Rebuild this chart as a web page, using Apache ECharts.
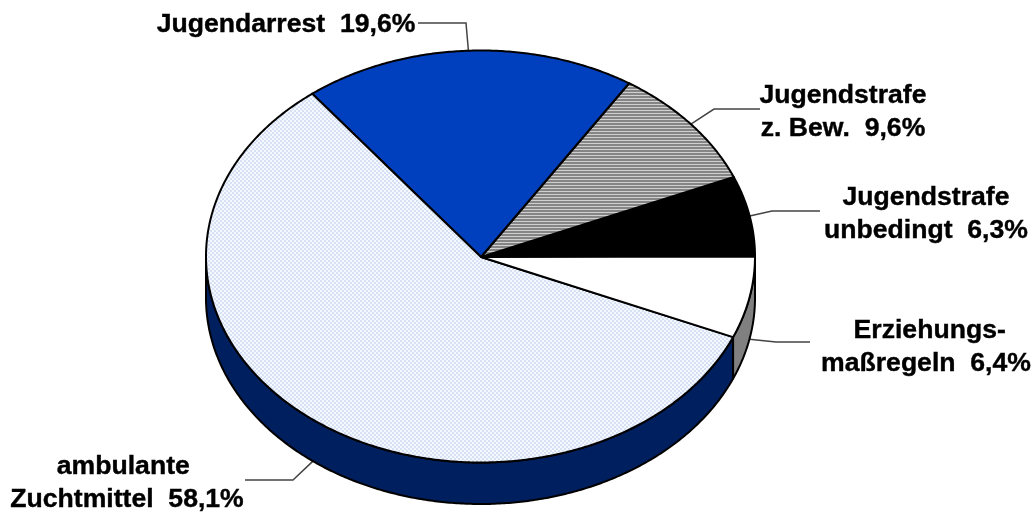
<!DOCTYPE html>
<html><head><meta charset="utf-8">
<style>html,body{margin:0;padding:0;background:#fff}#c{width:1034px;height:516px}</style>
<script src="https://cdn.jsdelivr.net/npm/echarts@6/dist/echarts.min.js"></script>
</head><body><div id="c"></div>
<script>
// Slices, counter-clockwise from 3 o'clock
const categories = ['Jugendstrafe unbedingt','Jugendstrafe z. Bew.','Jugendarrest','ambulante Zuchtmittel','Erziehungsmaßregeln'];
const values = [6.3, 9.6, 19.6, 58.1, 6.4];
const labelLines = [
  ['Jugendstrafe','unbedingt  6,3%'],
  ['Jugendstrafe','z. Bew.  9,6%'],
  ['Jugendarrest  19,6%'],
  ['ambulante ','Zuchtmittel  58,1%'],
  [' Erziehungs-','maßregeln  6,4%']
];
const labelCentres = [[926,214],[843,112.5],[286,25],[127,483.5],[926,347]];
const leaders = [
  [[820,211],[772,211]],
  [[760,109],[714,109]],
  [[418,23],[466,23]],
  [[245,480],[293,480]],
  [[810,342],[776,342]]
];
const sideColors = ['#000','#808080','#0033bb','#001f5f','#808080'];

const cx=480.5, cy=256.5, rx=274.5, ry=206, depth=41.5, apex=[481,257];

function patternCanvas(w,h,draw){
  const c=document.createElement('canvas');c.width=w;c.height=h;
  draw(c.getContext('2d'));return c;
}
const hatch=patternCanvas(1,3,g=>{g.fillStyle='#858585';g.fillRect(0,0,1,3);g.fillStyle='#d0d0d0';g.fillRect(0,2,1,1);});
const dots=patternCanvas(4,4,g=>{g.fillStyle='#f5f8fe';g.fillRect(0,0,4,4);g.fillStyle='#d6e1f6';g.fillRect(0,0,2,2);g.fillRect(2,2,2,2);});
const fills=['#000',{image:hatch,repeat:'repeat'},'#0040bf',{image:dots,repeat:'repeat'},'#fff'];

const P=(deg,dy=0)=>{const a=deg*Math.PI/180;return [cx+rx*Math.cos(a),cy-ry*Math.sin(a)+dy];};
function arc(a0,a1){const n=Math.max(2,Math.ceil(Math.abs(a1-a0)*2));const o=[];for(let i=0;i<=n;i++)o.push(a0+(a1-a0)*i/n);return o;}

let cum=[0];values.forEach(v=>cum.push(cum[cum.length-1]+v));
const total=cum[cum.length-1];

function renderItem(params,api){
  const i=params.dataIndex;
  const a0=cum[i]/total*360, a1=(cum[i]+api.value(1))/total*360;
  const children=[];
  const s0=Math.max(a0,180), s1=Math.min(a1,360);
  if(s1>s0){
    const top=arc(s0,s1).map(a=>P(a));
    const bot=arc(s1,s0).map(a=>P(a,depth));
    children.push({type:'polygon',z2:1,shape:{points:top.concat(bot)},
      style:{fill:sideColors[i],stroke:'#000',lineWidth:2,lineJoin:'round'}});
  }
  const pts=[apex].concat(arc(a0,a1).map(a=>P(a)));
  children.push({type:'polygon',z2:2,shape:{points:pts},
    style:{fill:fills[i],stroke:'#000',lineWidth:2,lineJoin:'round'}});
  // leader runs to the middle of the slice's outer edge
  const L=leaders[i];
  const mid=(a0+a1)/2;
  const tip=P(mid,Math.sin(mid*Math.PI/180)<0?depth:0);
  children.push({type:'polyline',z2:0,shape:{points:[L[0],L[1],tip]},
    style:{fill:null,stroke:'#444',lineWidth:1.5}});
  const [lx,ly]=labelCentres[i];
  children.push({type:'text',z2:4,x:lx,y:ly,style:{
    text:labelLines[i].join('\n'),align:'center',verticalAlign:'middle',
    font:'bold 26.6px "Liberation Sans", Arial, sans-serif',lineHeight:33,fill:'#000',stroke:'#000',lineWidth:0.4}});
  return {type:'group',children};
}
const chart=echarts.init(document.getElementById('c'),null,{renderer:'canvas'});
chart.setOption({animation:false,backgroundColor:'#fff',
  series:[{type:'custom',coordinateSystem:'none',renderItem,silent:true,clip:false,
    data:categories.map((n,i)=>({name:n,value:[i,values[i]]}))}]});
</script></body></html>
